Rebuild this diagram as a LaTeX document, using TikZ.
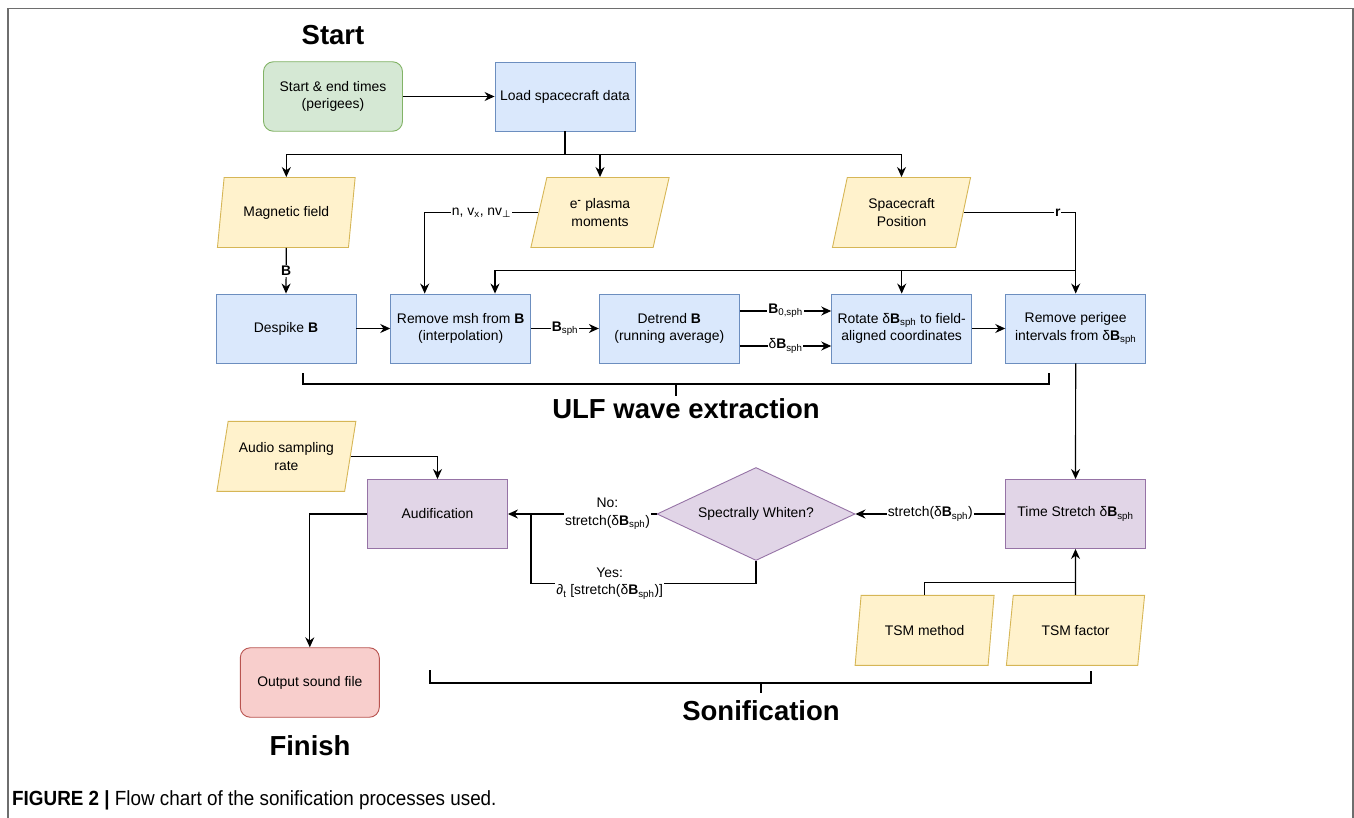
\documentclass[tikz,border=0pt]{standalone}
\usepackage{fontspec}
\setmainfont{Liberation Sans}
\newfontfamily\perpfont{DejaVu Sans}
\newfontfamily\capfont[FakeStretch=0.92]{Liberation Sans}
\usetikzlibrary{shapes.geometric,arrows.meta}

\definecolor{greenfill}{HTML}{D5E8D4}
\definecolor{greenline}{HTML}{82B366}
\definecolor{bluefill}{HTML}{DAE8FC}
\definecolor{blueline}{HTML}{6C8EBF}
\definecolor{yellowfill}{HTML}{FFF2CC}
\definecolor{yellowline}{HTML}{D6B656}
\definecolor{purplefill}{HTML}{E1D5E7}
\definecolor{purpleline}{HTML}{9673A6}
\definecolor{redfill}{HTML}{F8CECC}
\definecolor{redline}{HTML}{B85450}
\definecolor{framegray}{HTML}{6E6E6E}

\newcommand{\boxfont}{\fontsize{13.9}{17.5}\selectfont}
\newcommand{\headfont}{\fontsize{27.5}{30}\selectfont\bfseries}
\newcommand{\Bv}{\textbf{B}}
\newcommand{\dBsph}{δ\textbf{B}\textsubscript{sph}}

\begin{document}
\begin{tikzpicture}[x=1pt,y=-1pt]
          \tikzstyle{every node}+=[font=\boxfont, align=center]
          \tikzstyle{proc}=[draw=blueline, fill=bluefill, line width=0.9pt, minimum width=140pt, minimum height=69pt, inner sep=2pt]
          \tikzstyle{sonic}=[proc, draw=purpleline, fill=purplefill]
          \tikzstyle{term}=[draw, line width=0.9pt, rounded corners=10pt, minimum width=139pt, minimum height=69.5pt]
          \tikzstyle{data}=[trapezium, trapezium left angle=72.5, trapezium right angle=107.5, trapezium stretches=true, draw=yellowline, fill=yellowfill, line width=0.9pt, minimum width=139pt, minimum height=70pt, inner sep=1pt]
          \tikzstyle{decide}=[diamond, shape aspect=2.13, draw=purpleline, fill=purplefill, line width=0.9pt, minimum width=198pt, minimum height=93pt, inner sep=0pt]
          \tikzstyle{flow}=[draw, line width=1.2pt, -{Stealth[length=10pt,width=9pt]}]
          \tikzstyle{plain}=[draw, line width=1.2pt]
          \tikzstyle{elabel}=[fill=white, inner sep=1pt]
          \tikzstyle{bracket}=[draw, line width=2pt]
          \useasboundingbox (0,0) rectangle (1354,818);
          \draw [framegray, line width=1.3pt] (8,818) -- (8,8.5) -- (1353,8.5) -- (1353,818);
          % titles
          \node [font=\headfont] (starttitle) at (333,35) {Start};
          \node [font=\headfont] (ulftitle) at (686,409) {ULF wave extraction};
          \node [font=\headfont] (sontitle) at (761,711) {Sonification};
          \node [font=\headfont] (endtitle) at (310,746) {Finish};
          % inputs
          \node [term, draw=greenline, fill=greenfill] (start) at (333,96.5) {Start \& end times\\(perigees)};
          \node [proc] (load) at (565,96.5) {Load spacecraft data};
          \node [data] (magfield) at (286.3,212.5) {Magnetic field};
          \node [data] (plasma) at (600,212.5) {e\textsuperscript{\textbf{-}} plasma\\moments};
          \node [data] (scpos) at (901.5,212.5) {Spacecraft\\Position};
          % ULF wave extraction
          \node [proc] (despike) at (286,328.5) {Despike \Bv};
          \node [proc] (rmmsh) at (460.7,328.5) {Remove msh from \Bv\\(interpolation)};
          \node [proc] (detrend) at (669.3,328.5) {Detrend \Bv\\(running average)};
          \node [proc] (rotate) at (901.7,328.5) {Rotate \dBsph{} to field-\\aligned coordinates};
          \node [proc] (rmper) at (1075.7,328.5) {Remove perigee\\intervals from \dBsph};
          % sonification
          \node [data] (audiorate) at (286.4,456.3) {Audio sampling\\rate};
          \node [sonic] (audif) at (437.5,514) {Audification};
          \node [decide] (whiten) at (756,514) {Spectrally Whiten?};
          \node [sonic] (tstretch) at (1075.5,514) {Time Stretch \dBsph};
          \node [data] (tsmmeth) at (924.6,630.3) {TSM method};
          \node [data] (tsmfac) at (1075.5,630.3) {TSM factor};
          \node [term, draw=redline, fill=redfill] (output) at (309.8,682.5) {Output sound file};
          % connectors
          \draw [flow] (start) -- (load);
          \draw [plain] (load.south) -- ++(0,23) coordinate (fork);
          \draw [flow] (fork) -| (magfield.north);
          \draw [flow] (fork) -| (plasma.north);
          \draw [flow] (fork) -| (scpos.north);
          \draw [flow] (magfield.south) -- node [elabel] {\Bv} (despike.north);
          \draw [flow] (plasma.west) -| node [elabel, pos=0.25] {n, v\textsubscript{x}, nv\textsubscript{\perpfont ⊥}} ([xshift=-36pt]rmmsh.north);
          \draw [flow] (scpos.east) -| node [elabel, pos=0.42] {\textbf{r}} (rmper.north);
          \coordinate (rjoin) at ([yshift=23.3pt]rmper.north);
          \draw [flow] (rjoin) -| (rotate.north);
          \draw [flow] (rjoin) -| ([xshift=34.3pt]rmmsh.north);
          \draw [flow] (despike) -- (rmmsh);
          \draw [flow] (rmmsh) -- node [elabel] {\Bv\textsubscript{sph}} (detrend);
          \draw [flow] ([yshift=17.5pt]detrend.east) -- node [elabel] {\Bv\textsubscript{0,sph}} ([yshift=17.5pt]rotate.west);
          \draw [flow] ([yshift=-17.5pt]detrend.east) -- node [elabel] {\dBsph} ([yshift=-17.5pt]rotate.west);
          \draw [flow] (rotate) -- (rmper);
          \draw [flow] (rmper) -- (tstretch);
          \draw [flow] (tstretch) -- node [elabel] {stretch(\dBsph)} (whiten);
          \draw [flow] (whiten) -- node [elabel, pos=0.33] {No:\\stretch(\dBsph)} (audif);
          \coordinate (merge) at ([xshift=23pt]audif.east);
          \draw [plain] (whiten.south) -- ++(0,22.5) -| node [elabel, pos=0.325] {Yes:\\∂\textsubscript{t} [stretch(\dBsph)]} (merge);
          \draw [flow] (tsmfac) -- (tstretch);
          \draw [plain] (tsmmeth.north) |- ([yshift=12.4pt]tsmfac.north);
          \draw [flow] (audiorate.east) -| (audif.north);
          \draw [flow] (audif.west) -| (output.north);
          % brackets
          \draw [bracket] (303,373) -- (303,384.3) -- (1049.3,384.3) -- (1049.3,373);
          \draw [bracket] (676,384.3) -- (676,396);
          \draw [bracket] (429.5,670) -- (429.5,682.7) -- (1091.4,682.7) -- (1091.4,670.7);
          \draw [bracket] (760.5,682.7) -- (760.5,693);
          % caption
          \node [anchor=west, inner sep=0pt, font=\capfont\fontsize{20.5}{24}\selectfont] (caption) at (12,800) {\textbf{FIGURE 2 |} Flow chart of the sonification processes used.};
\end{tikzpicture}
\end{document}
